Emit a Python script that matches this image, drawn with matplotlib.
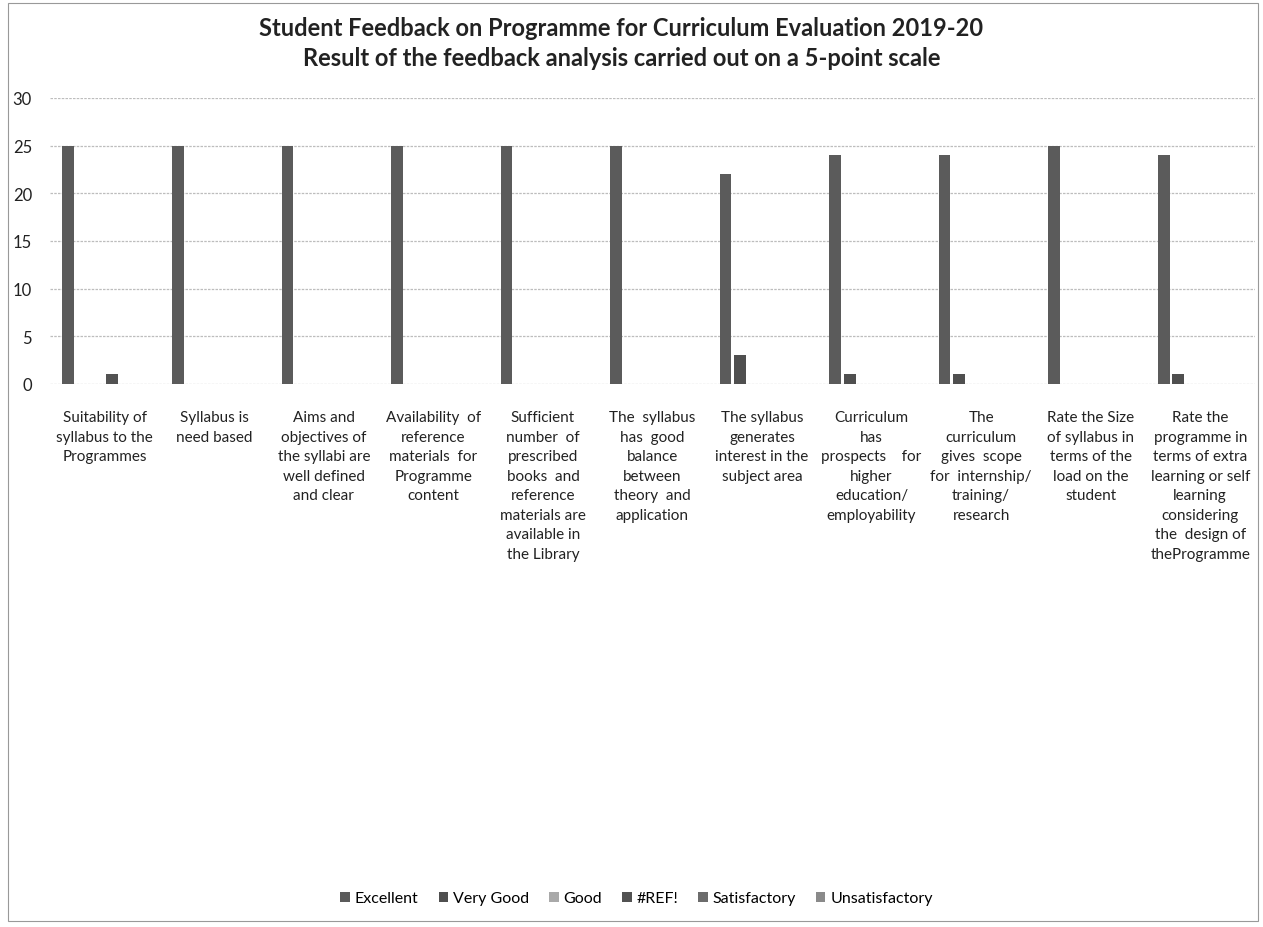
import matplotlib.pyplot as plt
import matplotlib.patches as mpatches
import numpy as np

plt.rcParams['font.family'] = ['Lato', 'DejaVu Sans']

categories = [
    "Suitability of\nsyllabus to the\nProgrammes",
    "Syllabus is\nneed based",
    "Aims and\nobjectives of\nthe syllabi are\nwell defined\nand clear",
    "Availability  of\nreference\nmaterials  for\nProgramme\ncontent",
    "Sufficient\nnumber  of\nprescribed\nbooks  and\nreference\nmaterials are\navailable in\nthe Library",
    "The  syllabus\nhas  good\nbalance\nbetween\ntheory  and\napplication",
    "The syllabus\ngenerates\ninterest in the\nsubject area",
    "Curriculum\nhas\nprospects    for\nhigher\neducation/\nemployability",
    "The\ncurriculum\ngives  scope\nfor  internship/\ntraining/\nresearch",
    "Rate the Size\nof syllabus in\nterms of the\nload on the\nstudent",
    "Rate the\nprogramme in\nterms of extra\nlearning or self\nlearning\nconsidering\nthe  design of\ntheProgramme",
]

series_names = ['Excellent', 'Very Good', 'Good', '#REF!', 'Satisfactory', 'Unsatisfactory']
excellent = [25, 25, 25, 25, 25, 25, 22, 24, 24, 25, 24]
very_good = [0, 0, 0, 0, 0, 0, 3, 1, 1, 0, 1]
good = [0] * 11
ref_err = [1, 0, 0, 0, 0, 0, 0, 0, 0, 0, 0]
satisfactory = [0] * 11
unsatisfactory = [0] * 11
colors = ['#5b5b5b', '#4f4f4f', '#a9a9a9', '#525252', '#6c6c6c', '#8a8a8a']

data = [excellent, very_good, good, ref_err, satisfactory, unsatisfactory]

fig = plt.figure(figsize=(12.63, 9.28), dpi=100)
ax = fig.add_axes([50/1263, 1-385/928, 1205/1263, 286/928])

x = np.arange(len(categories))
pitch = 1/7.5
for i, (name, vals) in enumerate(zip(series_names, data)):
    ax.bar(x + (i-2.5)*pitch, vals, width=pitch*0.8, color=colors[i], label=name, zorder=3)

ax.set_xlim(-0.5, len(categories)-0.5)
ax.set_ylim(0, 30)
ax.set_yticks(range(0, 31, 5))
ax.grid(axis='y', color='#bdbdbd', linewidth=0.9, linestyle=(0, (2, 1)), zorder=0)
for s in ax.spines.values():
    s.set_visible(False)
ax.tick_params(axis='both', length=0, colors='#222222')
ax.tick_params(axis='y', pad=13, labelsize=12)

ax.set_xticks(x)
ax.set_xticklabels(categories, fontsize=11, linespacing=1.5, va='top')
ax.tick_params(axis='x', pad=19)

fig.text(0.492, 0.953, "Student Feedback on Programme for Curriculum Evaluation 2019-20\nResult of the feedback analysis carried out on a 5-point scale",
         ha='center', va='center', fontsize=17, fontweight='bold', linespacing=1.4, color='#222222')

fig.legend(loc='center', bbox_to_anchor=(0.504, 0.031), ncol=6, frameon=False, fontsize=11.5,
           handlelength=0.6, handleheight=0.6, handletextpad=0.3, columnspacing=1.25)

fig.patches.append(mpatches.Rectangle((8/1263, 6/928), 1250/1263, 918/928, transform=fig.transFigure,
                                      fill=False, edgecolor='#999999', linewidth=0.8))

fig.savefig('out.png', dpi=100)
